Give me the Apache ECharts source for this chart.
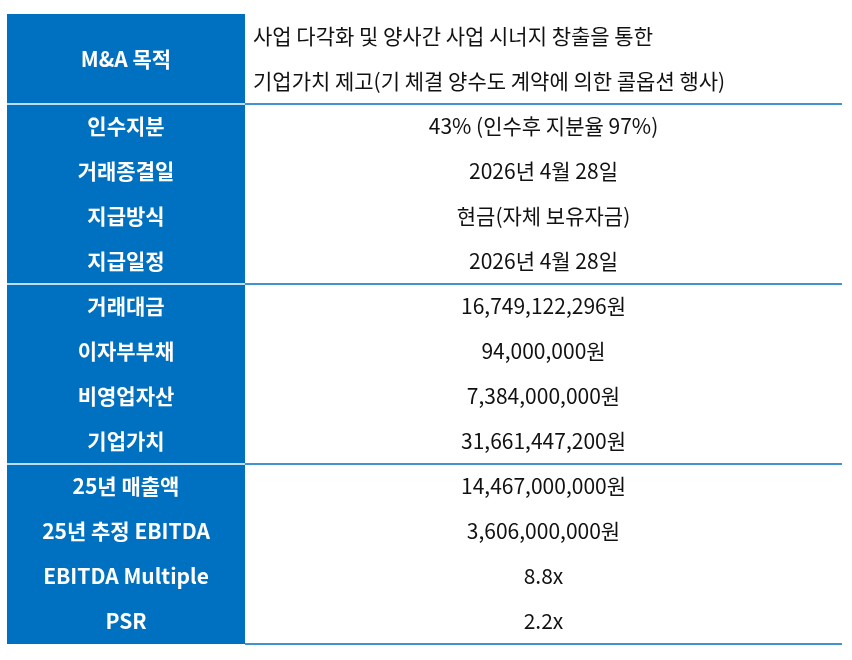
<!DOCTYPE html><html><head><meta charset="utf-8"><script src="https://cdn.jsdelivr.net/npm/echarts@6/dist/echarts.min.js"></script>
<style>html,body{margin:0;background:#fff}#c{width:852px;height:660px}</style></head><body><div id="c"></div><script>
const labels=["M&A 목적","인수지분","거래종결일","지급방식","지급일정","거래대금","이자부부채","비영업자산","기업가치","25년 매출액","25년 추정 EBITDA","EBITDA Multiple","PSR"];
const values=["사업 다각화 및 양사간 사업 시너지 창출을 통한\n기업가치 제고(기 체결 양수도 계약에 의한 콜옵션 행사)","43% (인수후 지분율 97%)","2026년 4월 28일","현금(자체 보유자금)","2026년 4월 28일","16,749,122,296원","94,000,000원","7,384,000,000원","31,661,447,200원","14,467,000,000원","3,606,000,000원","8.8x","2.2x"];
const groupEnds=[0,4,8,12];
(function(){
const BLUE='#0070C0',F='"Noto Sans CJK KR","Noto Sans",sans-serif';
const x0=7,x1=245,x2=842,tY=14,headH=90,rowH=45;
const g=[];
const yOf=i=>i===0?tY:tY+headH+(i-1)*rowH;
const hOf=i=>i===0?headH:rowH;
const bottom=yOf(labels.length);
g.push({type:'rect',shape:{x:x0,y:tY,width:x1-x0,height:bottom-tY},style:{fill:BLUE}});
labels.forEach((l,i)=>{
 const cy=yOf(i)+hOf(i)/2;
 g.push({type:'text',x:(x0+x1)/2,y:cy,style:{text:l,fill:'#fff',font:'bold 21px '+F,align:'center',verticalAlign:'middle'}});
 if(i===0) g.push({type:'text',x:253,y:cy,style:{text:values[i],fill:'#111',font:'21px '+F,align:'left',verticalAlign:'middle',lineHeight:45}});
 else g.push({type:'text',x:(x1+x2)/2,y:cy,style:{text:values[i],fill:'#111',font:'21px '+F,align:'center',verticalAlign:'middle'}});
});
groupEnds.forEach(e=>{
 const y=yOf(e+1);
 if(e<labels.length-1) g.push({type:'line',shape:{x1:x0,y1:y,x2:x1,y2:y},style:{stroke:'#fff',lineWidth:1.5}});
 g.push({type:'line',shape:{x1:x1,y1:y,x2:x2,y2:y},style:{stroke:BLUE,lineWidth:1.5}});
});
echarts.init(document.getElementById('c')).setOption({graphic:g});
})();
</script></body></html>
